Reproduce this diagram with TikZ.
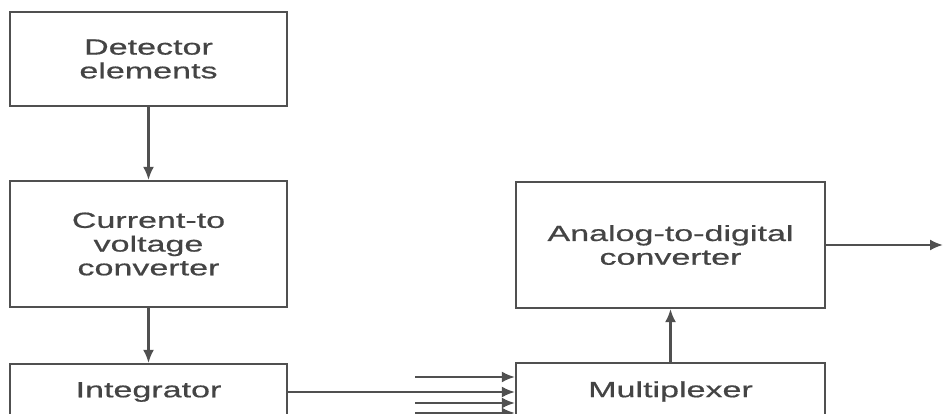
\documentclass[tikz,border=0pt]{standalone}
\usepackage{fontspec}
\setmainfont[FakeStretch=1.55,FakeBold=0.6]{Liberation Sans}
\usepackage{xcolor}
\usepackage{tikz}
\usetikzlibrary{arrows.meta,positioning}
\definecolor{linec}{HTML}{505050}
\definecolor{textc}{HTML}{444444}
\tikzset{
  blockbox/.style={rectangle, draw=linec, fill=white, line width=1.3pt,
    minimum width=5.54cm, minimum height=1.88cm, align=center, text=textc,
    font=\fontsize{12.5}{13.5}\selectfont},
  widebox/.style={blockbox, minimum width=6.18cm},
  flowedge/.style={-{Latex[length=2.6mm,width=2.2mm]}, draw=linec, line width=1.2pt},
}

\begin{document}
\begin{tikzpicture}
  \useasboundingbox (0,0) rectangle (18.86,8.26);
  \clip (0,0) rectangle (18.86,8.26);
  % left column
  \node[blockbox] (det) at (2.97,7.08) {Detector\\elements};
  \node[blockbox, minimum height=2.52cm] (ctv) at (2.97,3.38) {Current-to\\voltage\\converter};
  \node[blockbox, minimum height=1.12cm] (integ) at (2.97,0.42) {Integrator};
  % right column
  \node[widebox, minimum height=2.52cm] (adc) at (13.41,3.36) {Analog-to-digital\\converter};
  \node[widebox, minimum height=1.14cm] (mux) at (13.41,0.43) {Multiplexer};
  % other channels and output
  \coordinate (in1) at (8.3,0.72);
  \coordinate (in3) at (8.3,0.2);
  \coordinate (in4) at (8.3,0.0);
  \coordinate (out) at (18.86,3.36);
  \draw[flowedge] (det) -- (ctv);
  \draw[flowedge] (ctv) -- (integ);
  \draw[flowedge] (integ) -- (integ -| mux.west);
  \draw[flowedge] (in1) -- (in1 -| mux.west);
  \draw[flowedge] (in3) -- (in3 -| mux.west);
  \draw[flowedge] (in4) -- (in4 -| mux.west);
  \draw[flowedge] (mux) -- (adc);
  \draw[flowedge] (adc) -- (out);
\end{tikzpicture}
\end{document}
